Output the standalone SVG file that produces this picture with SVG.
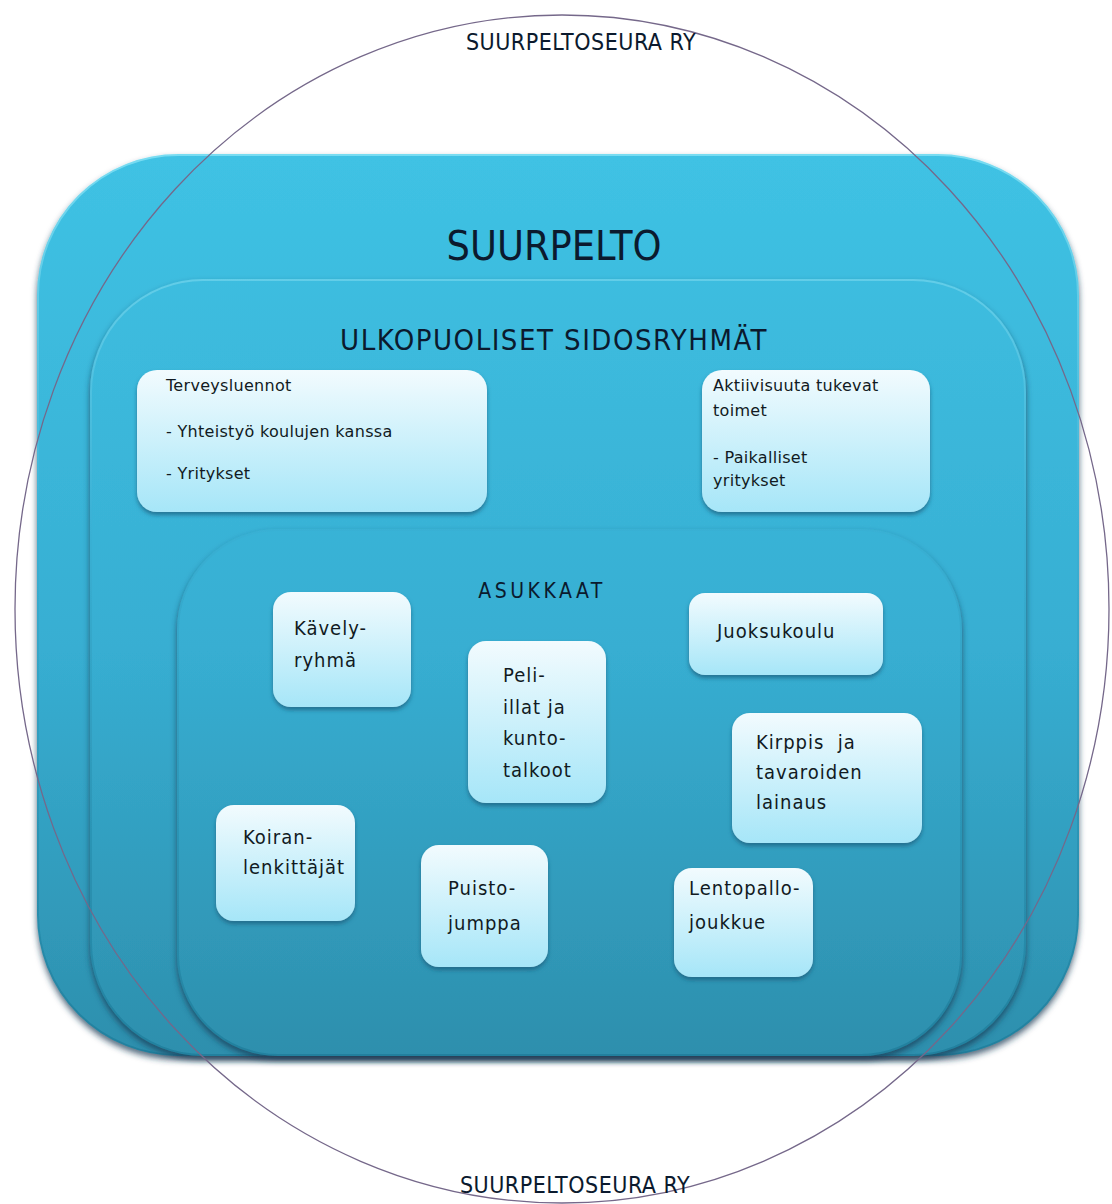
<svg xmlns="http://www.w3.org/2000/svg" width="1112" height="1204" viewBox="0 0 1112 1204">
  <defs>
    <linearGradient id="bigGrad" gradientUnits="userSpaceOnUse" x1="0" y1="155" x2="0" y2="1055">
      <stop offset="0" stop-color="#3fc2e4"/>
      <stop offset="0.55" stop-color="#37aed2"/>
      <stop offset="1" stop-color="#2d8fad"/>
    </linearGradient>
    <linearGradient id="rimGrad" gradientUnits="userSpaceOnUse" x1="0" y1="155" x2="0" y2="1055">
      <stop offset="0" stop-color="#78dcf2"/>
      <stop offset="0.4" stop-color="#3ab2d6"/>
      <stop offset="1" stop-color="#22809e"/>
    </linearGradient>
    <linearGradient id="lightGrad" x1="0" y1="0" x2="0" y2="1">
      <stop offset="0" stop-color="#f2fbfe"/>
      <stop offset="1" stop-color="#a6e6f8"/>
    </linearGradient>
    <filter id="bigShadow" x="-10%" y="-10%" width="120%" height="120%">
      <feDropShadow dx="0" dy="4" stdDeviation="3" flood-color="#1b3a55" flood-opacity="0.75"/>
    </filter>
    <filter id="smallShadow" x="-20%" y="-20%" width="140%" height="140%">
      <feDropShadow dx="0" dy="3" stdDeviation="2" flood-color="#1a5a78" flood-opacity="0.7"/>
    </filter>
  </defs>
  <style>
    .big { fill: url(#bigGrad); stroke: url(#rimGrad); stroke-width: 2; filter: url(#bigShadow); }
    .light { fill: url(#lightGrad); filter: url(#smallShadow); }
    .t { font-family: "DejaVu Sans Condensed", "DejaVu Sans", sans-serif; fill: #111a22; font-size: 20px; letter-spacing: 1px; }
    .s { font-family: "DejaVu Sans", sans-serif; fill: #111a22; font-size: 16px; letter-spacing: 0.3px; }
    .title { font-family: "DejaVu Sans Condensed", "DejaVu Sans", sans-serif; fill: #0b1a2e; text-anchor: middle; }
    .ring { fill: none; stroke: #75688a; stroke-width: 1.3; }
  </style>

  <rect width="1112" height="1204" fill="#ffffff"/>

  <g id="suurpelto">
    <rect class="big" x="38" y="155" width="1040" height="900" rx="140" ry="140"/>
    <text class="title" x="554" y="260" font-size="41">SUURPELTO</text>
  </g>

  <g id="ulkopuoliset">
    <rect class="big" x="91" y="280" width="934" height="775" rx="112" ry="112"/>
    <text class="title" x="554" y="350" font-size="29" letter-spacing="1.5">ULKOPUOLISET SIDOSRYHMÄT</text>
  </g>

  <g id="asukkaat">
    <rect class="big" x="178" y="530" width="783" height="525" rx="100" ry="100"/>
    <text class="title" x="542" y="598" font-size="21" letter-spacing="3.5">ASUKKAAT</text>
  </g>

  <g id="terveysluennot">
    <rect class="light" x="137" y="370" width="350" height="142" rx="20" ry="20"/>
    <text class="s" x="166" y="391">Terveysluennot</text>
    <text class="s" x="166" y="437">- Yhteistyö koulujen kanssa</text>
    <text class="s" x="166" y="479">- Yritykset</text>
  </g>

  <g id="aktiivisuus">
    <rect class="light" x="702" y="370" width="228" height="142" rx="20" ry="20"/>
    <text class="s" x="713" y="391">Aktiivisuuta tukevat</text>
    <text class="s" x="713" y="416">toimet</text>
    <text class="s" x="713" y="463">- Paikalliset</text>
    <text class="s" x="713" y="486">yritykset</text>
  </g>

  <g id="kavelyryhma">
    <rect class="light" x="273" y="592" width="138" height="115" rx="18" ry="18"/>
    <text class="t" x="294" y="635">Kävely-</text>
    <text class="t" x="294" y="667">ryhmä</text>
  </g>

  <g id="peli-illat">
    <rect class="light" x="468" y="641" width="138" height="162" rx="18" ry="18"/>
    <text class="t" x="503" y="682">Peli-</text>
    <text class="t" x="503" y="714">illat ja</text>
    <text class="t" x="503" y="745">kunto-</text>
    <text class="t" x="503" y="777">talkoot</text>
  </g>

  <g id="juoksukoulu">
    <rect class="light" x="689" y="593" width="194" height="82" rx="16" ry="16"/>
    <text class="t" x="717" y="638">Juoksukoulu</text>
  </g>

  <g id="kirppis">
    <rect class="light" x="732" y="713" width="190" height="130" rx="18" ry="18"/>
    <text class="t" x="756" y="749" xml:space="preserve">Kirppis  ja</text>
    <text class="t" x="756" y="779">tavaroiden</text>
    <text class="t" x="756" y="809">lainaus</text>
  </g>

  <g id="koiranlenkittajat">
    <rect class="light" x="216" y="805" width="139" height="116" rx="18" ry="18"/>
    <text class="t" x="243" y="844" font-size="18" letter-spacing="1.2">Koiran-</text>
    <text class="t" x="243" y="874" font-size="18" letter-spacing="1.2">lenkittäjät</text>
  </g>

  <g id="puistojumppa">
    <rect class="light" x="421" y="845" width="127" height="122" rx="18" ry="18"/>
    <text class="t" x="448" y="895">Puisto-</text>
    <text class="t" x="448" y="930">jumppa</text>
  </g>

  <g id="lentopallojoukkue">
    <rect class="light" x="674" y="868" width="139" height="109" rx="18" ry="18"/>
    <text class="t" x="689" y="895">Lentopallo-</text>
    <text class="t" x="689" y="929">joukkue</text>
  </g>

  <g id="suurpeltoseura">
    <ellipse class="ring" cx="562" cy="609" rx="547" ry="594"/>
    <text class="title" x="581" y="50" font-size="23" letter-spacing="0.5">SUURPELTOSEURA RY</text>
    <text class="title" x="575" y="1193" font-size="23" letter-spacing="0.5">SUURPELTOSEURA RY</text>
  </g>

  <g id="connectors"/>
</svg>
